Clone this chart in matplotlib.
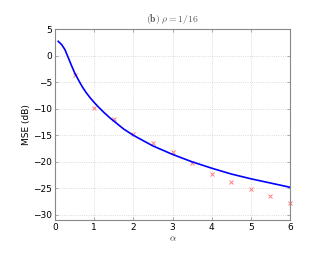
import matplotlib
matplotlib.use("Agg")
import matplotlib.pyplot as plt

curve_alpha = [0.08, 0.17, 0.25, 0.34, 0.42, 0.5, 0.6, 0.7, 0.8, 0.9, 1.0, 1.1, 1.25, 1.4, 1.5,
               1.75, 2.0, 2.25, 2.5, 2.75, 3.0, 3.5, 4.0, 4.5, 5.0, 5.5, 6.0]
curve_mse = [2.75, 2.1, 1.2, -0.4, -1.85, -3.2, -4.6, -5.9, -7.0, -7.95, -8.8, -9.6, -10.7, -11.7, -12.3,
             -13.8, -15.0, -16.0, -17.0, -17.8, -18.6, -20.0, -21.2, -22.3, -23.2, -24.0, -24.8]

sim_alpha = [0.5, 1.0, 1.5, 2.0, 2.5, 3.0, 3.5, 4.0, 4.5, 5.0, 5.5, 6.0]
sim_mse = [-3.7, -9.8, -11.9, -14.8, -16.5, -18.2, -20.3, -22.3, -23.8, -25.2, -26.4, -27.7]

xticks = [0, 1, 2, 3, 4, 5, 6]
yticks = [5, 0, -5, -10, -15, -20, -25, -30]

plt.rcParams['mathtext.fontset'] = 'cm'
fig = plt.figure(figsize=(3.34, 2.58), dpi=100)
ax = fig.add_axes([0.165, 0.147, 0.703, 0.739])

ax.plot(curve_alpha, curve_mse, color='#0000ff', lw=1.2, zorder=3)
ax.plot(sim_alpha, sim_mse, linestyle='none', marker='x', color='#ff8080', ms=3.5, mew=0.7,
        zorder=2, clip_on=False)

ax.set_xlim(0, 6)
ax.set_ylim(-31, 5)
ax.set_xticks(xticks)
ax.set_yticks(yticks)
ax.grid(True, linestyle=':', color='#d0d0d0', lw=0.6)
for s in ax.spines.values():
    s.set_color('#888888')
    s.set_linewidth(0.8)
ax.tick_params(labelsize=6.5, length=2, width=0.5, color='#888888', direction='in', top=True, right=True, pad=2)
ax.set_xlabel(r'$\alpha$', fontsize=7, labelpad=1, color='#333333')
ax.set_ylabel('MSE (dB)', fontsize=6.5, labelpad=2)
ax.set_title(r'$\mathbf{(b)}\ \rho = 1/16$', fontsize=7, color='#555555', pad=5)

fig.savefig('out.png', dpi=100)
